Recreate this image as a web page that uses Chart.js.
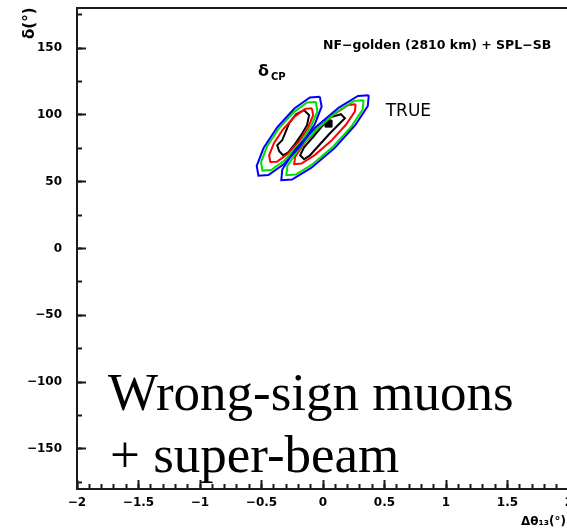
<!DOCTYPE html>
<html>
<head>
<meta charset="utf-8">
<script src="https://cdn.jsdelivr.net/npm/chart.js@4.4.1/dist/chart.umd.min.js"></script>
<style>
  html, body { margin: 0; padding: 0; background: #fff; overflow: hidden; }
  #wrap { position: relative; width: 600px; height: 532px; }
</style>
</head>
<body>
<div id="wrap"><canvas id="c" width="600" height="532"></canvas></div>
<script>
// delta_CP (deg) against delta theta_13 (deg): allowed regions around the fit point
var xTicks = [-2, -1.5, -1, -0.5, 0, 0.5, 1, 1.5, 2];
var yTicks = [-150, -100, -50, 0, 50, 100, 150];

// left island (sign-degenerate solution)
var leftBlue = [[-0.026, 113.6], [-0.011, 106.1], [-0.068, 92.8], [-0.180, 77.1], [-0.317, 63.2], [-0.444, 55.0],
  [-0.525, 54.5], [-0.539, 61.9], [-0.483, 75.2], [-0.371, 90.9], [-0.233, 104.8], [-0.107, 113.0]];
var leftGreen = [[-0.058, 109.7], [-0.046, 102.5], [-0.096, 91.7], [-0.193, 78.0], [-0.313, 65.9], [-0.422, 58.7],
  [-0.492, 58.3], [-0.504, 64.7], [-0.455, 76.3], [-0.358, 90.0], [-0.238, 102.1], [-0.129, 109.3]];
var leftRed = [[-0.090, 104.9], [-0.080, 99.8], [-0.119, 90.8], [-0.195, 80.1], [-0.289, 70.7], [-0.373, 65.0],
  [-0.428, 64.7], [-0.438, 69.7], [-0.399, 78.8], [-0.323, 89.4], [-0.229, 98.9], [-0.145, 104.5]];
var leftBlack = [[-0.154, 103.5], [-0.113, 99.8], [-0.130, 92.3], [-0.178, 84.8], [-0.235, 77.3], [-0.283, 72.0],
  [-0.324, 69.8], [-0.356, 72.8], [-0.372, 77.3], [-0.332, 81.0], [-0.308, 86.3], [-0.275, 93.8], [-0.219, 100.5]];

// right island (around the true value)
var rightBlue = [[0.372, 114.7], [0.364, 106.6], [0.262, 92.3], [0.096, 75.3], [-0.094, 60.5], [-0.252, 51.6],
  [-0.339, 51.1], [-0.331, 59.1], [-0.230, 73.5], [-0.062, 90.5], [0.126, 105.3], [0.284, 114.2]];
var rightGreen = [[0.330, 111.0], [0.322, 104.0], [0.232, 91.4], [0.083, 76.4], [-0.083, 63.2], [-0.222, 55.3],
  [-0.298, 54.8], [-0.290, 61.7], [-0.199, 74.3], [-0.051, 89.3], [0.115, 102.5], [0.254, 110.5]];
var rightRed = [[0.266, 107.9], [0.259, 102.5], [0.186, 92.6], [0.067, 80.6], [-0.065, 70.1], [-0.175, 63.6],
  [-0.234, 63.1], [-0.227, 68.6], [-0.154, 78.5], [-0.035, 90.4], [0.097, 101.0], [0.207, 107.4]];
var rightBlack = [[0.065, 98.3], [0.146, 100.5], [0.178, 97.5], [0.121, 92.3], [0.049, 85.5], [-0.032, 77.3],
  [-0.105, 69.8], [-0.154, 66.8], [-0.186, 69.8], [-0.154, 75.8], [-0.081, 83.3], [-0.008, 91.5]];

var truePoint = [0.045, 93.5];

var ink = '#1a1a1a';
var tickFont = { family: 'DejaVu Sans', size: 12, weight: 'bold' };

function closed(pts) {
  var out = pts.map(function (p) { return { x: p[0], y: p[1] }; });
  out.push({ x: pts[0][0], y: pts[0][1] });
  return out;
}

function contour(pts, color) {
  return {
    data: closed(pts),
    showLine: true,
    borderColor: color,
    borderWidth: 2,
    pointRadius: 0,
    fill: false,
    tension: 0
  };
}

function minus(v) {
  return String(v).replace('-', '\u2212');
}

// fixed axis sizes, no extra padding pushed into the layout
function fixSize(w, h) {
  return function (s) {
    if (w !== null) s.width = w;
    if (h !== null) s.height = h;
    s.paddingTop = s.paddingBottom = s.paddingLeft = s.paddingRight = 0;
  };
}

// frame plus the text drawn inside the pad
var frame = {
  id: 'frame',
  afterDraw: function (chart) {
    var ctx = chart.ctx, a = chart.chartArea;
    var sx = chart.scales.x, sy = chart.scales.y;
    ctx.save();
    ctx.strokeStyle = ink;
    ctx.lineWidth = 2;
    ctx.strokeRect(a.left, a.top, a.right - a.left, a.bottom - a.top);

    ctx.fillStyle = '#000';
    ctx.textBaseline = 'alphabetic';
    ctx.textAlign = 'left';

    ctx.font = 'bold 12.5px "DejaVu Sans"';
    ctx.fillText('NF\u2212golden (2810 km) + SPL\u2212SB', sx.getPixelForValue(0), sy.getPixelForValue(149));

    ctx.font = 'bold 16px "DejaVu Sans"';
    ctx.fillText('\u03b4', 258, 76);
    ctx.font = 'bold 10px "DejaVu Sans"';
    ctx.fillText('CP', 271, 80);

    ctx.font = '17px "DejaVu Sans"';
    ctx.fillText('TRUE', sx.getPixelForValue(0.51), sy.getPixelForValue(99));

    ctx.font = '53px "Liberation Serif"';
    ctx.fillText('Wrong-sign muons', 108, 410);
    ctx.fillText('+ super-beam', 110, 472);

    ctx.font = 'bold 12px "DejaVu Sans"';
    ctx.textAlign = 'right';
    ctx.fillText('\u0394\u03b8\u2081\u2083(\u00b0)', 566, 525);

    ctx.font = 'bold 15px "DejaVu Sans"';
    ctx.textAlign = 'left';
    ctx.translate(34, 39);
    ctx.rotate(-Math.PI / 2);
    ctx.fillText('\u03b4(\u00b0)', 0, 0);
    ctx.restore();
  }
};

var datasets = [
  contour(leftBlue, '#0000ff'), contour(rightBlue, '#0000ff'),
  contour(leftGreen, '#00e000'), contour(rightGreen, '#00e000'),
  contour(leftRed, '#ff0000'), contour(rightRed, '#ff0000'),
  contour(leftBlack, '#000000'), contour(rightBlack, '#000000'),
  {
    data: [{ x: truePoint[0], y: truePoint[1] }],
    showLine: false,
    pointStyle: 'rect',
    pointRadius: 5,
    backgroundColor: '#000',
    borderColor: '#000'
  }
];

new Chart(document.getElementById('c'), {
  type: 'scatter',
  data: { datasets: datasets },
  plugins: [frame],
  options: {
    responsive: false,
    animation: false,
    devicePixelRatio: 1,
    layout: { autoPadding: false, padding: { left: 0, right: 31, top: 8, bottom: 0 } },
    plugins: { legend: { display: false }, tooltip: { enabled: false } },
    scales: {
      x: {
        type: 'linear', position: 'bottom', weight: 1, min: -2, max: 2,
        afterBuildTicks: function (s) { s.ticks = xTicks.map(function (v) { return { value: v }; }); },
        afterFit: fixSize(null, 43),
        grid: { drawOnChartArea: false, tickLength: -9, tickWidth: 2, tickColor: ink },
        border: { display: false },
        ticks: { padding: 16, color: '#000', font: tickFont, maxRotation: 0, autoSkip: false,
          callback: function (v) { return minus(v); } }
      },
      xMinor: {
        type: 'linear', position: 'bottom', weight: 0, min: -2, max: 2,
        afterFit: fixSize(null, 0),
        grid: { drawOnChartArea: false, tickLength: -5, tickWidth: 2, tickColor: ink },
        border: { display: false },
        ticks: { display: false, stepSize: 0.1, includeBounds: false }
      },
      y: {
        type: 'linear', position: 'left', weight: 1, min: -180, max: 180,
        afterBuildTicks: function (s) { s.ticks = yTicks.map(function (v) { return { value: v }; }); },
        afterFit: fixSize(77, null),
        grid: { drawOnChartArea: false, tickLength: -9, tickWidth: 2, tickColor: ink },
        border: { display: false },
        ticks: { padding: 24, color: '#000', font: tickFont, autoSkip: false,
          callback: function (v) { return minus(v); } }
      },
      yMinor: {
        type: 'linear', position: 'left', weight: 0, min: -180, max: 180,
        afterFit: fixSize(0, null),
        grid: { drawOnChartArea: false, tickLength: -5, tickWidth: 2, tickColor: ink },
        border: { display: false },
        ticks: { display: false, stepSize: 25, includeBounds: false }
      }
    }
  }
});
</script>
</body>
</html>
